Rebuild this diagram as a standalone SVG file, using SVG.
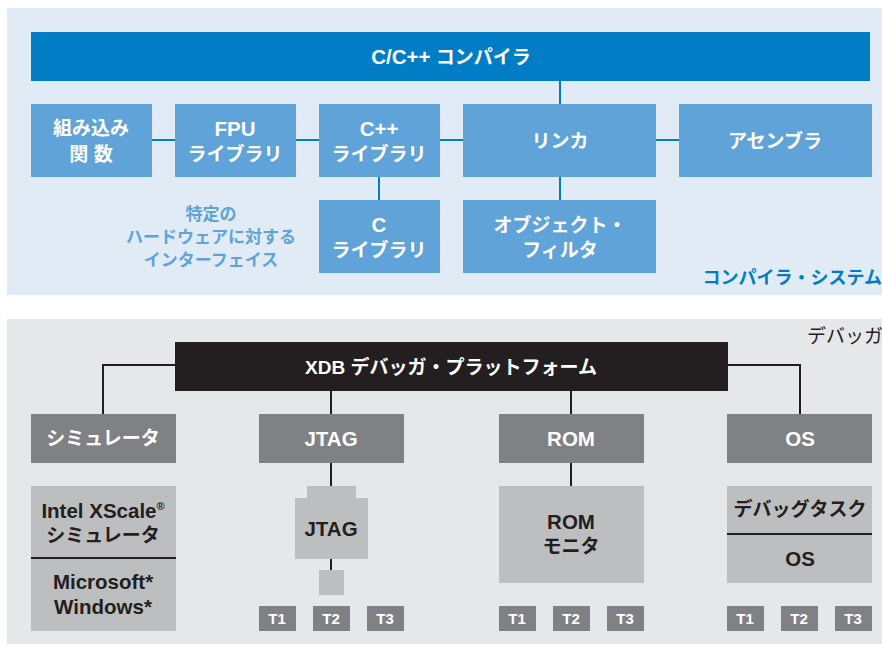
<svg xmlns="http://www.w3.org/2000/svg" width="882" height="645" viewBox="0 0 882 645">
<style>
text{font-family:"Liberation Sans","Noto Sans CJK JP",sans-serif;font-weight:bold;text-anchor:middle}
.bb{fill:#5fa3d8}
.wt{fill:#ffffff;font-size:19px}
.g1{fill:#808184}
.g2{fill:#bdbec0}
.dk{fill:#231f20;font-size:19px}
.lt{font-size:20.5px}
.tt{fill:#ffffff;font-size:15px}
.cb{stroke:#007dc5;stroke-width:2;fill:none}
.cd{stroke:#231f20;stroke-width:2;fill:none}
</style>
<rect x="0" y="0" width="882" height="645" fill="#ffffff"/>
<rect x="7" y="8" width="875" height="287" fill="#e1ebf5"/>
<rect x="7" y="319" width="875" height="325" fill="#e6e7e9"/>
<g id="connectors">
<path class="cb" d="M152 140H175M296 140H319M440 140H463M656 140H679M560 81V104M560 177V200M379 177V200"/>
<path class="cd" d="M175 365H103V414M728 365H800V414M331 391V414M571 391V414M331 463V486M331 559V570M571 463V486"/>
</g>
<g id="compiler"><rect x="31" y="32" width="839" height="49" fill="#007dc5"/><text class="wt" x="451" y="64"><tspan class="lt">C/C++</tspan> コンパイラ</text></g>
<g id="builtin"><rect class="bb" x="31" y="104" width="121" height="73"/><text class="wt" x="91" y="135">組み込み</text><text class="wt" x="91" y="161">関 数</text></g>
<g id="fpu"><rect class="bb" x="175" y="104" width="121" height="73"/><text class="wt lt" x="235" y="136">FPU</text><text class="wt" x="235" y="161">ライブラリ</text></g>
<g id="cpplib"><rect class="bb" x="319" y="104" width="121" height="73"/><text class="wt lt" x="379" y="136">C++</text><text class="wt" x="379" y="161">ライブラリ</text></g>
<g id="linker"><rect class="bb" x="463" y="104" width="193" height="73"/><text class="wt" x="560" y="148">リンカ</text></g>
<g id="assembler"><rect class="bb" x="679" y="104" width="193" height="73"/><text class="wt" x="775" y="148">アセンブラ</text></g>
<g id="clib"><rect class="bb" x="319" y="200" width="121" height="73"/><text class="wt lt" x="379" y="232">C</text><text class="wt" x="379" y="257">ライブラリ</text></g>
<g id="objfilter"><rect class="bb" x="463" y="200" width="193" height="73"/><text class="wt" x="560" y="232">オブジェクト・</text><text class="wt" x="560" y="257">フィルタ</text></g>
<g id="hwnote"><text x="211" y="220" fill="#5fa3d8" font-size="17">特定の</text><text x="211" y="243" fill="#5fa3d8" font-size="17">ハードウェアに対する</text><text x="211" y="266" fill="#5fa3d8" font-size="17">インターフェイス</text></g>
<g id="compsys"><text x="882" y="284" fill="#007dc5" font-size="18" style="text-anchor:end">コンパイラ・システム</text></g>
<g id="debugger-label"><text x="807" y="343" fill="#231f20" font-size="19" style="text-anchor:start;font-weight:normal">デバッガ</text></g>
<g id="xdb"><rect x="175" y="342" width="553" height="49" fill="#231f20"/><text class="wt" x="451" y="374">XDB デバッガ・プラットフォーム</text></g>
<g id="simulator"><rect class="g1" x="31" y="414" width="145" height="49"/><text class="wt" x="103" y="445">シミュレータ</text></g>
<g id="jtag"><rect class="g1" x="259" y="414" width="145" height="49"/><text class="wt lt" x="331" y="446">JTAG</text></g>
<g id="rom"><rect class="g1" x="499" y="414" width="145" height="49"/><text class="wt lt" x="571" y="446">ROM</text></g>
<g id="os"><rect class="g1" x="727" y="414" width="145" height="49"/><text class="wt lt" x="800" y="446">OS</text></g>
<g id="simstack"><rect class="g2" x="31" y="486" width="145" height="145"/><path class="cd" d="M31 558H176"/><text class="dk lt" x="103" y="518">Intel XScale<tspan font-size="11" dy="-8">®</tspan></text><text class="dk" x="103" y="542">シミュレータ</text><text class="dk lt" x="103" y="589">Microsoft*</text><text class="dk lt" x="103" y="614">Windows*</text></g>
<g id="jtagprobe"><rect class="g2" x="307" y="486" width="49" height="13"/><rect class="g2" x="295" y="498" width="73" height="61"/><text class="dk lt" x="331" y="536">JTAG</text><rect class="g2" x="319" y="570" width="25" height="25"/></g>
<g id="rommon"><rect class="g2" x="499" y="486" width="145" height="97"/><text class="dk lt" x="571" y="529">ROM</text><text class="dk" x="571" y="553">モニタ</text></g>
<g id="osstack"><rect class="g2" x="727" y="486" width="145" height="97"/><path class="cd" d="M727 534H872"/><text class="dk" x="800" y="516">デバッグタスク</text><text class="dk lt" x="800" y="566">OS</text></g>
<g id="targets">
<rect class="g1" x="259" y="606" width="37" height="25"/><text class="tt" x="277" y="624">T1</text>
<rect class="g1" x="313" y="606" width="37" height="25"/><text class="tt" x="331" y="624">T2</text>
<rect class="g1" x="367" y="606" width="37" height="25"/><text class="tt" x="385" y="624">T3</text>
<rect class="g1" x="499" y="606" width="37" height="25"/><text class="tt" x="517" y="624">T1</text>
<rect class="g1" x="553" y="606" width="37" height="25"/><text class="tt" x="571" y="624">T2</text>
<rect class="g1" x="607" y="606" width="37" height="25"/><text class="tt" x="625" y="624">T3</text>
<rect class="g1" x="727" y="606" width="37" height="25"/><text class="tt" x="745" y="624">T1</text>
<rect class="g1" x="781" y="606" width="37" height="25"/><text class="tt" x="799" y="624">T2</text>
<rect class="g1" x="835" y="606" width="37" height="25"/><text class="tt" x="853" y="624">T3</text>
</g>
</svg>
